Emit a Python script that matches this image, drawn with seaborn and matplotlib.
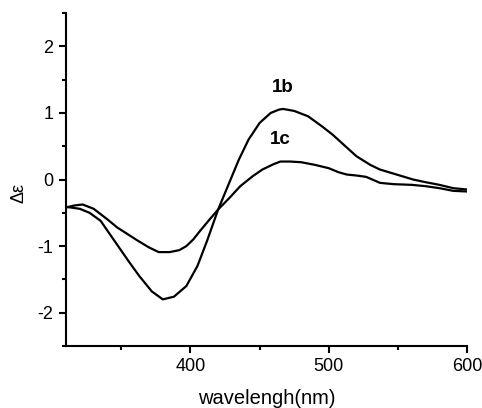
import numpy as np
import pandas as pd
import matplotlib
matplotlib.use("Agg")
import matplotlib.pyplot as plt
import seaborn as sns
from matplotlib.ticker import MultipleLocator

# CD spectra
wl_1b = [310, 320, 327, 335, 346, 355, 363, 372, 380, 388, 397, 405, 412, 420, 428, 435, 442,
         450, 458, 464, 467, 475, 485, 495, 503, 512, 520, 530, 537, 545, 553, 561, 570,
         580, 590, 600]
de_1b = [-0.41, -0.44, -0.50, -0.62, -0.95, -1.22, -1.45, -1.68, -1.80, -1.76, -1.60, -1.30,
         -0.92, -0.45, -0.05, 0.30, 0.60, 0.85, 1.00, 1.05, 1.06, 1.03, 0.95, 0.80, 0.67,
         0.50, 0.35, 0.22, 0.15, 0.10, 0.05, 0.00, -0.04, -0.08, -0.13, -0.15]
wl_1c = [310, 316, 322, 330, 340, 347, 353, 362, 370, 377, 385, 392, 397, 402, 407, 413,
         420, 428, 436, 445, 452, 460, 465, 472, 480, 490, 500, 507, 513, 520, 527, 537,
         547, 560, 570, 580, 590, 600]
de_1c = [-0.42, -0.39, -0.375, -0.44, -0.60, -0.72, -0.80, -0.92, -1.02, -1.09, -1.09, -1.06,
         -1.00, -0.90, -0.77, -0.62, -0.45, -0.28, -0.10, 0.05, 0.15, 0.23, 0.27, 0.27, 0.26,
         0.22, 0.17, 0.11, 0.075, 0.06, 0.04, -0.05, -0.07, -0.08, -0.10, -0.13, -0.17, -0.18]

df = pd.concat([
    pd.DataFrame({"wl": wl_1b, "de": de_1b, "cmpd": "1b"}),
    pd.DataFrame({"wl": wl_1c, "de": de_1c, "cmpd": "1c"}),
])

sns.set_style("ticks")
plt.rcParams["font.family"] = ["Liberation Sans", "DejaVu Sans"]
plt.rcParams["axes.unicode_minus"] = False
plt.rcParams["text.color"] = "black"
plt.rcParams["axes.labelcolor"] = "black"
plt.rcParams["xtick.color"] = "black"
plt.rcParams["ytick.color"] = "black"

fig = plt.figure(figsize=(4.82, 4.08), dpi=100)
ax = fig.add_axes([0.137, 0.152, 0.832, 0.816])
sns.lineplot(data=df, x="wl", y="de", units="cmpd", estimator=None, color="black",
             linewidth=1.6, ax=ax, sort=False)

ax.set_xlim(310, 600)
ax.set_ylim(-2.5, 2.5)
ax.xaxis.set_major_locator(MultipleLocator(100))
ax.xaxis.set_minor_locator(MultipleLocator(50))
ax.yaxis.set_major_locator(MultipleLocator(1))
ax.yaxis.set_minor_locator(MultipleLocator(0.5))
ax.tick_params(which="major", length=5, width=1.5, labelsize=13, direction="out", pad=4)
ax.tick_params(which="minor", length=3, width=1.5, direction="out")
for s in ["left", "bottom"]:
    ax.spines[s].set_linewidth(1.5)
    ax.spines[s].set_color("black")
sns.despine(ax=ax)

ax.set_xlabel("wavelengh(nm)", fontsize=14.5, labelpad=10)
ax.set_ylabel("Δε", fontsize=13)
ax.yaxis.set_label_coords(-0.095, 0.46)

ax.text(467, 1.38, "1b", fontsize=13.5, fontweight="bold", ha="center", va="center")
ax.text(465, 0.60, "1c", fontsize=13.5, fontweight="bold", ha="center", va="center")

fig.savefig("out.png", dpi=100)
